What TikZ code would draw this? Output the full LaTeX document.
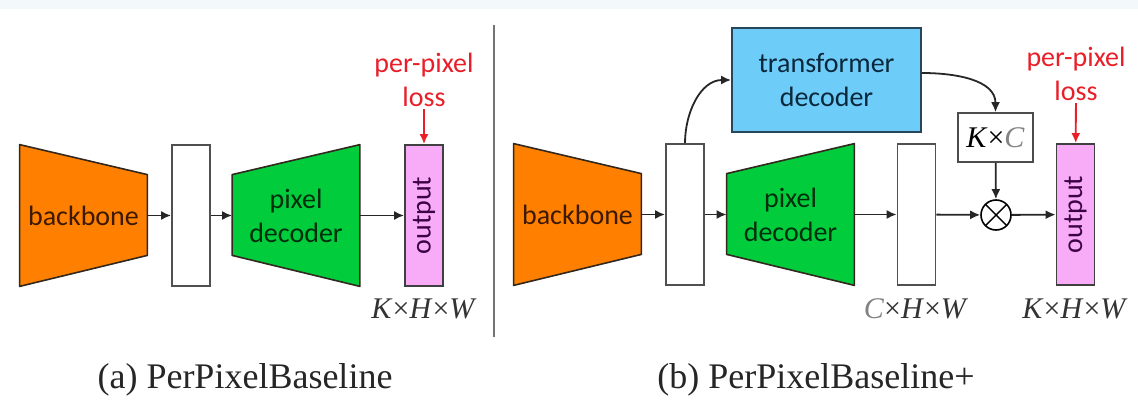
\documentclass[tikz,border=0pt]{standalone}
\usepackage{fontspec}
\usepackage{graphicx}
\setmainfont{Liberation Serif}
\setsansfont{Carlito}
\usetikzlibrary{arrows.meta,backgrounds}
\tikzset{
  block/.style={
    font=\sffamily\fontsize{14}{17}\selectfont,
    inner sep=0pt,
    align=center
  },
  block-trap/.style={block, minimum width=63.5pt, minimum height=70.5pt},
  block-feat/.style={
    block,
    draw=featgray,
    line width=0.9pt,
    fill=white,
    minimum width=19pt,
    minimum height=70.5pt
  },
  block-out/.style={block-feat, draw=black!75, fill=outpink, text=outtext},
  block-td/.style={
    block,
    draw=tdline,
    line width=0.9pt,
    fill=tdfill,
    text=tdtext,
    minimum width=94.5pt,
    minimum height=52pt
  },
  block-kc/.style={
    draw=black!70,
    line width=0.8pt,
    font=\fontsize{15}{17}\selectfont,
    minimum width=37.5pt,
    minimum height=24.5pt,
    inner sep=0pt
  },
  block-mul/.style={
    circle,
    draw=black,
    line width=0.8pt,
    minimum size=15pt,
    inner sep=0pt,
    path picture={
      \draw[line width=0.7pt] (path picture bounding box.north west) -- (path picture bounding box.south east);
      \draw[line width=0.7pt] (path picture bounding box.north east) -- (path picture bounding box.south west);
    }
  },
  label-loss/.style={block, text=lossred, inner sep=1pt},
  label-dim/.style={font=\fontsize{15}{17}\selectfont, text=black!80, inner sep=0pt},
  label-cap/.style={font=\fontsize{18}{21}\selectfont, text=black!85, inner sep=0pt},
  arrow-main/.style={draw=black!85, line width=0.9pt, -{Latex[length=5pt,width=4.5pt]}},
  arrow-loss/.style={draw=lossred, line width=0.9pt, -{Latex[length=5pt,width=4.5pt]}},
  divider/.style={draw=black!55, line width=0.7pt}
}
\definecolor{bbfill}{RGB}{255,128,0}
\definecolor{bbtext}{RGB}{60,25,0}
\definecolor{pdfill}{RGB}{0,204,60}
\definecolor{pdtext}{RGB}{0,45,10}
\definecolor{tdfill}{RGB}{110,204,248}
\definecolor{tdline}{RGB}{40,70,90}
\definecolor{tdtext}{RGB}{10,40,60}
\definecolor{outpink}{RGB}{248,172,248}
\definecolor{outtext}{RGB}{60,0,70}
\definecolor{featgray}{RGB}{80,80,80}
\definecolor{trapline}{RGB}{50,40,30}
\definecolor{lossred}{RGB}{232,30,40}
\definecolor{dimgray}{RGB}{130,130,130}
\definecolor{topband}{RGB}{243,248,250}
% trapezoid behind a node, narrow side on the right / left
\newcommand{\trapright}[2]{
  \begin{pgfonlayer}{background}
    \filldraw[#2,draw=trapline,line width=0.8pt,line join=round]
      (#1.north west) -- ([yshift=-15pt]#1.north east) -- ([yshift=15.5pt]#1.south east) -- (#1.south west) -- cycle;
  \end{pgfonlayer}
}
\newcommand{\trapleft}[2]{
  \begin{pgfonlayer}{background}
    \filldraw[#2,draw=trapline,line width=0.8pt,line join=round]
      ([yshift=-15pt]#1.north west) -- (#1.north east) -- (#1.south east) -- ([yshift=15.5pt]#1.south west) -- cycle;
  \end{pgfonlayer}
}

\begin{document}
\begin{tikzpicture}[x=0.5pt,y=-0.5pt]
  \useasboundingbox (0,0) rectangle (1138,401);
  \fill[topband] (0,0) rectangle (1138,9);

  % (a) baseline
  \node[block-trap, text=bbtext] (bbA) at (83.5,215.5) {backbone};
  \node[block-feat] (featA) at (191,215.5) {};
  \node[block-trap, text=pdtext] (pdA) at (296,215.5) {pixel\\decoder};
  \node[block-out] (outA) at (424,215.5) {\rotatebox{90}{output}};
  \node[label-loss] (lossA) at (424,80) {per-pixel\\loss};
  \node[label-dim] (dimA) at (424,309) {\textit{K}×\textit{H}×\textit{W}};
  \trapright{bbA}{bbfill}
  \trapleft{pdA}{pdfill}
  \draw[arrow-main] (bbA) -- (featA);
  \draw[arrow-main] (featA) -- (pdA);
  \draw[arrow-main] (pdA) -- (outA);
  \draw[arrow-loss] (lossA) -- (outA);
  \node[label-cap] (capA) at (245,380) {(a) PerPixelBaseline};

  % separator
  \coordinate (divtop) at (494,25);
  \coordinate (divbot) at (494,337);
  \draw[divider] (divtop) -- (divbot);

  % (b) baseline with transformer decoder
  \node[block-trap, text=bbtext] (bbB) at (577.5,214.5) {backbone};
  \node[block-feat] (featB) at (685,214.5) {};
  \node[block-trap, text=pdtext] (pdB) at (790.5,214.5) {pixel\\decoder};
  \node[block-feat] (featC) at (916.5,214.5) {};
  \node[block-td] (tdB) at (826.5,80) {transformer\\decoder};
  \node[block-kc] (kcB) at (995.5,137.5) {\textit{K}×\textcolor{dimgray}{\textit{C}}};
  \node[block-mul] (mulB) at (996,215) {};
  \node[block-out] (outB) at (1075.5,214.5) {\rotatebox{90}{output}};
  \node[label-loss] (lossB) at (1076,74) {per-pixel\\loss};
  \node[label-dim] (dimC) at (916,309) {\textcolor{dimgray}{\textit{C}}×\textit{H}×\textit{W}};
  \node[label-dim] (dimB) at (1075,309) {\textit{K}×\textit{H}×\textit{W}};
  \trapright{bbB}{bbfill}
  \trapleft{pdB}{pdfill}
  \draw[arrow-main] (bbB) -- (featB);
  \draw[arrow-main] (featB) -- (pdB);
  \draw[arrow-main] (pdB) -- (featC);
  \draw[arrow-main] (featC) -- (mulB);
  \draw[arrow-main] (mulB) -- (outB);
  \draw[arrow-main] (featB.north) to[out=90,in=180] (tdB.west);
  \draw[arrow-main] ([yshift=3.5pt]tdB.east) to[out=0,in=90] (kcB.north);
  \draw[arrow-main] (kcB) -- (mulB);
  \draw[arrow-loss] (lossB) -- (outB);
  \node[label-cap] (capB) at (816,380) {(b) PerPixelBaseline+};
\end{tikzpicture}
\end{document}
